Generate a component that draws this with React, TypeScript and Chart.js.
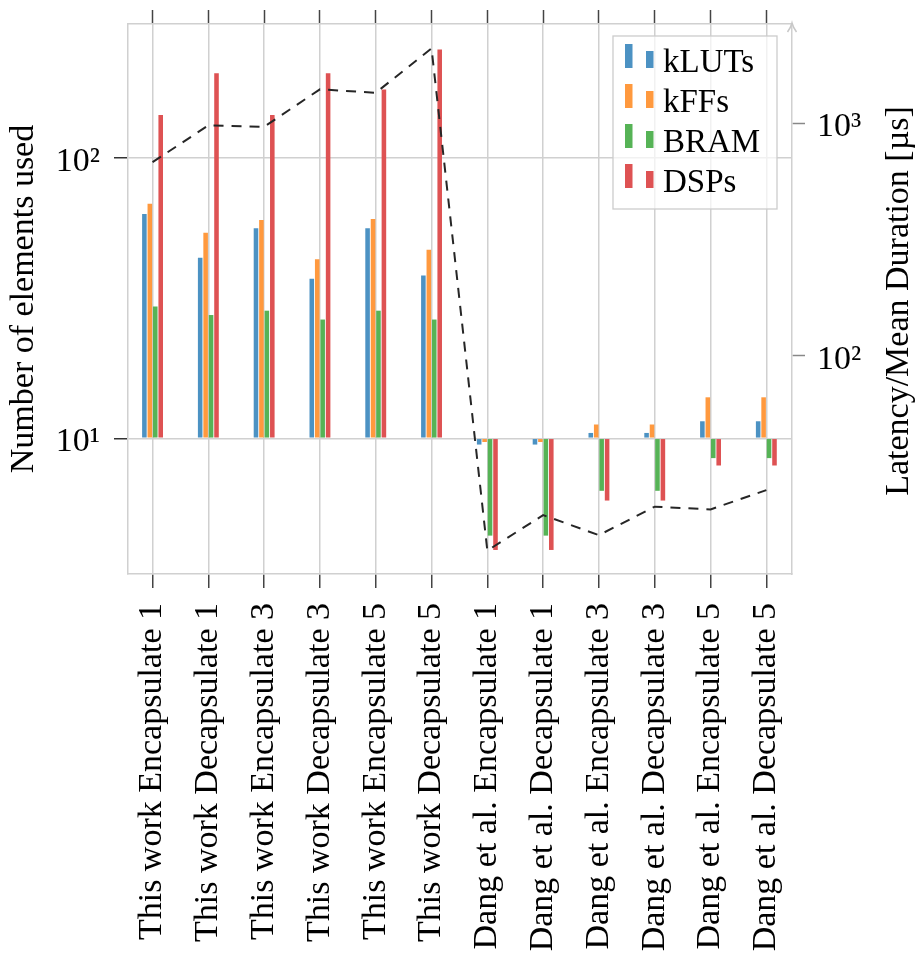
import React, { useEffect, useRef } from 'react';
import { Chart, registerables } from 'chart.js';

Chart.register(...registerables);

const categories = [
  'This work Encapsulate 1',
  'This work Decapsulate 1',
  'This work Encapsulate 3',
  'This work Decapsulate 3',
  'This work Encapsulate 5',
  'This work Decapsulate 5',
  'Dang et al. Encapsulate 1',
  'Dang et al. Decapsulate 1',
  'Dang et al. Encapsulate 3',
  'Dang et al. Decapsulate 3',
  'Dang et al. Encapsulate 5',
  'Dang et al. Decapsulate 5',
];

const kLUTs = [63, 44, 56, 37, 56, 38, 9.5, 9.5, 10.45, 10.45, 11.5, 11.5];
const kFFs = [68.5, 54, 60, 43.5, 60.5, 47, 9.7, 9.7, 11.2, 11.2, 14, 14];
const BRAM = [29.5, 27.5, 28.5, 26.5, 28.5, 26.5, 4.5, 4.5, 6.5, 6.5, 8.5, 8.5];
const DSPs = [142, 200, 142, 200, 175, 243, 4.0, 4.0, 6.0, 6.0, 8.0, 8.0];
const latency = [679, 977, 964, 1397, 1350, 2094, 14.5, 20.6, 16.9, 22.4, 21.8, 26.4];

const seriesNames = ['kLUTs', 'kFFs', 'BRAM', 'DSPs'];
const seriesColors = ['#4c92c3', '#ff993e', '#56b356', '#de5253'];

const leftTicks = [10, 100];
const leftTickLabels = ['10¹', '10²'];
const rightTicks = [100, 1000];
const rightTickLabels = ['10²', '10³'];

const leftTitle = 'Number of elements used';
const rightTitle = 'Latency/Mean Duration [µs]';

const FAMILY = "'Liberation Serif', 'Times New Roman', serif";
const GRID = '#d0d0d0';
const FS = 34;
const LEG_FS = 33;

export default function App() {
  const ref = useRef<HTMLCanvasElement>(null);

  useEffect(() => {
    document.body.style.margin = '0';
    const canvas = ref.current;
    if (!canvas) return;

    const toXY = (arr: number[]) => arr.map((v, i) => ({ x: i, y: v }));
    const barDs = (label: string, data: number[], color: string) => ({
      type: 'bar' as const,
      label,
      data: toXY(data),
      backgroundColor: color,
      borderWidth: 0,
      base: 10,
      xAxisID: 'x',
      yAxisID: 'y',
      order: 1,
      categoryPercentage: 0.39,
      barPercentage: 0.84,
    });

    const catTicks = (s: any) => {
      s.ticks = categories.map((_, i) => ({ value: i }));
    };
    const noPad = (s: any) => {
      s.paddingTop = 0;
      s.paddingBottom = 0;
      s.paddingLeft = 0;
      s.paddingRight = 0;
    };

    const decor = {
      id: 'decor',
      afterDatasetsDraw(chart: any) {
        const { ctx, chartArea } = chart;
        const { right, top } = chartArea;
        ctx.save();
        // arrow at top of right axis
        ctx.strokeStyle = '#c8c8c8';
        ctx.lineWidth = 1.5;
        ctx.beginPath();
        ctx.moveTo(right - 4.5, top + 8);
        ctx.quadraticCurveTo(right - 1, top + 3, right, top - 1);
        ctx.quadraticCurveTo(right + 1, top + 3, right + 4.5, top + 8);
        ctx.stroke();

        // legend
        const lx = 613, ly = 36, lw = 164, lh = 173;
        ctx.fillStyle = 'rgba(255,255,255,0.7)';
        ctx.fillRect(lx, ly, lw, lh);
        ctx.strokeStyle = '#cccccc';
        ctx.lineWidth = 1.3;
        ctx.strokeRect(lx, ly, lw, lh);
        ctx.font = `${LEG_FS}px ${FAMILY}`;
        ctx.textAlign = 'left';
        ctx.textBaseline = 'alphabetic';
        seriesNames.forEach((name, i) => {
          const dy = i * 40;
          ctx.fillStyle = seriesColors[i];
          ctx.fillRect(625, 44 + dy, 7.5, 24);
          ctx.fillRect(646, 51 + dy, 7.5, 17);
          ctx.fillStyle = '#000';
          ctx.fillText(name, 663, 72 + dy);
        });

        // right axis title
        ctx.translate(899, 301);
        ctx.rotate(-Math.PI / 2);
        ctx.textAlign = 'center';
        ctx.textBaseline = 'middle';
        ctx.fillStyle = '#000';
        ctx.font = `${FS}px ${FAMILY}`;
        ctx.fillText(rightTitle, 0, 0);
        ctx.restore();
      },
    };

    const chart = new Chart(canvas, {
      type: 'bar',
      data: {
        datasets: [
          {
            type: 'line' as const,
            label: 'Latency',
            data: toXY(latency),
            xAxisID: 'x',
            yAxisID: 'y1',
            borderColor: '#262626',
            borderWidth: 2,
            borderDash: [10, 8],
            pointRadius: 0,
            fill: false,
            tension: 0,
            order: 0,
          } as any,
          barDs(seriesNames[0], kLUTs, seriesColors[0]),
          barDs(seriesNames[1], kFFs, seriesColors[1]),
          barDs(seriesNames[2], BRAM, seriesColors[2]),
          barDs(seriesNames[3], DSPs, seriesColors[3]),
        ],
      },
      options: {
        animation: false,
        responsive: false,
        maintainAspectRatio: false,
        layout: { padding: 0 },
        plugins: {
          legend: { display: false },
          tooltip: { enabled: false },
        },
        scales: {
          x: {
            type: 'linear',
            position: 'bottom',
            min: -0.44,
            max: 11.46,
            offset: false,
            afterBuildTicks: catTicks,
            afterFit: (s: any) => {
              s.height = 383;
              noPad(s);
            },
            ticks: {
              autoSkip: false,
              minRotation: 90,
              maxRotation: 90,
              padding: 15,
              color: '#000',
              font: { family: FAMILY, size: FS },
              callback: (v: any) => categories[Number(v)] ?? '',
            },
            grid: {
              offset: false,
              color: GRID,
              lineWidth: 1.5,
              tickColor: '#444',
              tickWidth: 1.5,
              tickLength: 14,
              drawOnChartArea: true,
            },
            border: { color: GRID, width: 1.5 },
          },
          x2: {
            type: 'linear',
            position: 'top',
            min: -0.44,
            max: 11.46,
            offset: false,
            afterBuildTicks: catTicks,
            afterFit: (s: any) => {
              s.height = 24;
              noPad(s);
            },
            ticks: { display: false },
            grid: {
              offset: false,
              drawOnChartArea: false,
              color: GRID,
              tickColor: '#444',
              tickWidth: 1.5,
              tickLength: 14,
            },
            border: { color: GRID, width: 1.5 },
          },
          y: {
            type: 'logarithmic',
            position: 'left',
            min: 3.284,
            max: 299.6,
            afterBuildTicks: (s: any) => {
              s.ticks = leftTicks.map((v) => ({ value: v }));
            },
            afterFit: (s: any) => {
              s.width = 128;
              noPad(s);
            },
            ticks: {
              padding: 14,
              labelOffset: 4,
              color: '#000',
              font: { family: FAMILY, size: FS },
              callback: (v: any) => {
                const i = leftTicks.indexOf(Number(v));
                return i >= 0 ? leftTickLabels[i] : '';
              },
            },
            grid: {
              color: GRID,
              lineWidth: 1.5,
              tickColor: '#333',
              tickWidth: 1.5,
              tickLength: 14,
            },
            border: { color: GRID, width: 1.5 },
            title: {
              display: true,
              text: leftTitle,
              color: '#000',
              font: { family: FAMILY, size: FS, lineHeight: 1 },
              padding: { top: 7, bottom: 0 },
            },
          },
          y1: {
            type: 'logarithmic',
            position: 'right',
            min: 11.5,
            max: 2667,
            afterBuildTicks: (s: any) => {
              s.ticks = rightTicks.map((v) => ({ value: v }));
            },
            afterFit: (s: any) => {
              s.width = 124;
              noPad(s);
            },
            ticks: {
              padding: 12,
              labelOffset: 4,
              color: '#000',
              font: { family: FAMILY, size: FS },
              callback: (v: any) => {
                const i = rightTicks.indexOf(Number(v));
                return i >= 0 ? rightTickLabels[i] : '';
              },
            },
            grid: {
              drawOnChartArea: false,
              color: GRID,
              tickColor: '#888',
              tickWidth: 1.5,
              tickLength: 13,
            },
            border: { color: GRID, width: 1.5 },
          },
        },
      } as any,
      plugins: [decor],
    });

    return () => chart.destroy();
  }, []);

  return (
    <div style={{ width: 916, height: 957 }}>
      <canvas ref={ref} width={916} height={957} style={{ display: 'block' }} />
    </div>
  );
}
